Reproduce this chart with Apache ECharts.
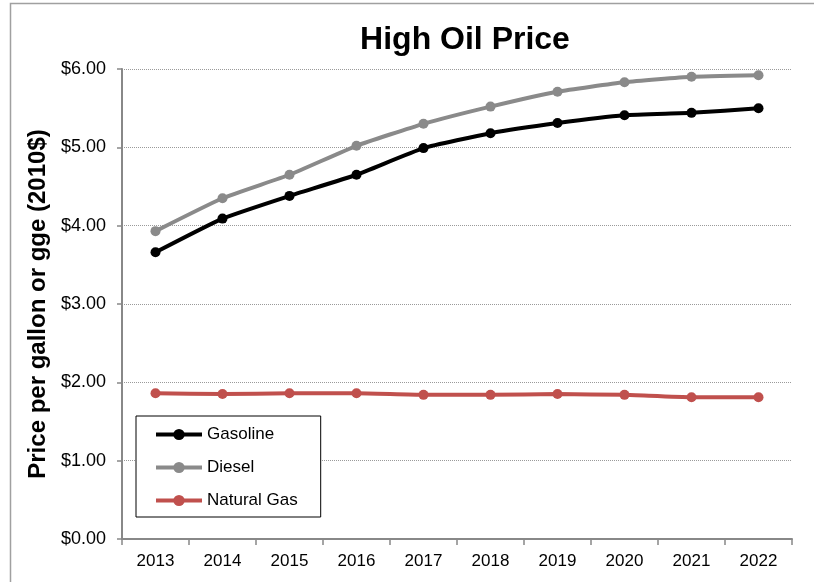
<!DOCTYPE html>
<html>
<head>
<meta charset="utf-8">
<script src="https://cdn.jsdelivr.net/npm/echarts@6/dist/echarts.min.js"></script>
<style>
  html, body { margin: 0; padding: 0; background: #fff; }
  #chart { width: 814px; height: 582px; }
</style>
</head>
<body>
<div id="chart"></div>
<script>
// data
var years = ['2013', '2014', '2015', '2016', '2017', '2018', '2019', '2020', '2021', '2022'];
var gasoline = [3.66, 4.09, 4.38, 4.65, 4.99, 5.18, 5.31, 5.41, 5.44, 5.50];
var diesel = [3.93, 4.35, 4.65, 5.02, 5.30, 5.52, 5.71, 5.83, 5.90, 5.92];
var naturalGas = [1.86, 1.85, 1.86, 1.86, 1.84, 1.84, 1.85, 1.84, 1.81, 1.81];

var font = 'Liberation Sans, Arial, sans-serif';

var myChart = echarts.init(document.getElementById('chart'));

function lineSeries(name, data, color) {
  return {
    name: name,
    type: 'line',
    data: data,
    smooth: 0.15,
    symbol: 'circle',
    symbolSize: 10,
    color: color,
    lineStyle: { color: color, width: 4 },
    itemStyle: { color: color },
    emphasis: { disabled: true }
  };
}

var option = {
  animation: false,
  backgroundColor: '#fff',
  graphic: [
    {
      type: 'rect',
      shape: { x: 10.5, y: 3.5, width: 900, height: 700 },
      style: { fill: 'none', stroke: '#a0a0a0', lineWidth: 1.5 },
      silent: true
    }
  ],
  title: {
    text: 'High Oil Price',
    left: 460,
    textAlign: 'center',
    top: 19,
    textStyle: { fontFamily: font, fontSize: 32, fontWeight: 'bold', color: '#000' }
  },
  legend: {
    orient: 'vertical',
    left: 136,
    top: 416,
    width: 184,
    backgroundColor: '#fff',
    borderColor: '#000',
    borderWidth: 1,
    borderRadius: 0,
    padding: [10, 23, 8, 18],
    itemWidth: 46,
    itemHeight: 14,
    itemGap: 16,
    lineStyle: { width: 4 },
    itemStyle: { borderWidth: 0 },
    textStyle: { fontFamily: font, fontSize: 17, color: '#000' },
    data: ['Gasoline', 'Diesel', 'Natural Gas']
  },
  grid: {
    left: 122,
    right: 22,
    top: 69,
    bottom: 43
  },
  xAxis: {
    type: 'category',
    data: years,
    boundaryGap: true,
    axisLine: { lineStyle: { color: '#888', width: 2 } },
    axisTick: { show: true, length: 6, lineStyle: { color: '#888', width: 1.5 } },
    axisLabel: { fontFamily: font, fontSize: 17, color: '#000', margin: 14 },
    splitLine: { show: false }
  },
  yAxis: {
    type: 'value',
    min: 0,
    max: 6,
    interval: 1,
    name: 'Price per gallon or gge (2010$)',
    nameLocation: 'middle',
    nameGap: 66,
    nameTextStyle: { fontFamily: font, fontSize: 24, fontWeight: 'bold', color: '#000' },
    axisLine: { show: true, lineStyle: { color: '#888', width: 2 } },
    axisTick: { show: true, length: 5, lineStyle: { color: '#888', width: 1.5 } },
    axisLabel: {
      fontFamily: font, fontSize: 18, color: '#000', margin: 16,
      formatter: function (v) { return '$' + v.toFixed(2); }
    },
    splitLine: { show: true, lineStyle: { color: '#9a9a9a', type: 'dotted', width: 1 } }
  },
  series: [
    lineSeries('Gasoline', gasoline, '#000000'),
    lineSeries('Diesel', diesel, '#8a8a8a'),
    lineSeries('Natural Gas', naturalGas, '#c0504d')
  ]
};

myChart.setOption(option);
</script>
</body>
</html>
